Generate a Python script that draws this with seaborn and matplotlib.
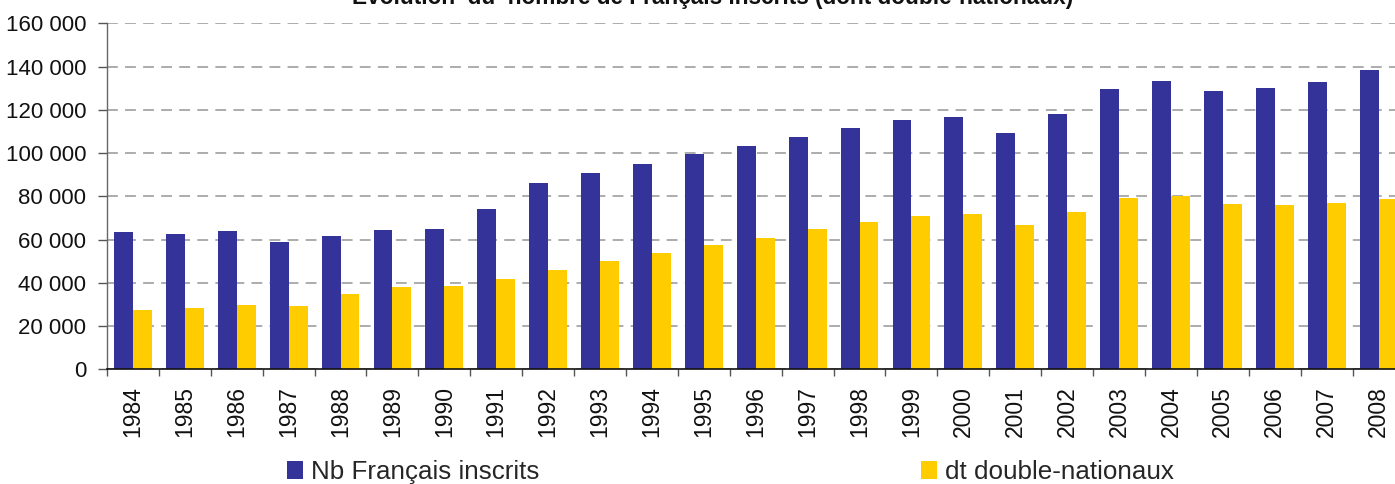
import matplotlib
matplotlib.use('Agg')
import matplotlib.pyplot as plt
import seaborn as sns
import pandas as pd
from matplotlib import font_manager
from matplotlib.ticker import FuncFormatter, FixedLocator

# données
years = [str(y) for y in range(1984, 2009)]
inscrits = [63500, 62600, 63900, 58900, 61600, 64400, 64900, 74100, 86200,
            90800, 94900, 99600, 103300, 107400, 111600, 115300, 116700,
            109300, 118100, 129600, 133300, 128700, 130100, 132900, 138400]
double_nat = [27400, 28400, 29700, 29300, 34800, 38100, 38500, 41800, 45900,
              50100, 53800, 57500, 60700, 64900, 68100, 70900, 71800, 66700,
              72700, 79200, 80100, 76400, 76000, 76900, 78800]
series_names = ['Nb Français inscrits', 'dt double-nationaux']
colors = ['#333399', '#FFCC00']
title = 'Evolution  du  nombre de Français inscrits (dont double-nationaux)'

sns.set_style('white')
plt.rcParams['font.family'] = ['Liberation Sans', 'DejaVu Sans']
names = {f.name for f in font_manager.fontManager.ttflist}
narrow = 'Liberation Sans Narrow' if 'Liberation Sans Narrow' in names else 'Liberation Sans'
ysize = 17 if narrow == 'Liberation Sans Narrow' else 16

df = pd.DataFrame({
    'annee': years * 2,
    'valeur': inscrits + double_nat,
    'serie': [series_names[0]] * len(years) + [series_names[1]] * len(years),
})

W, H = 1395, 484
fig = plt.figure(figsize=(W / 100, H / 100), dpi=100)
ax = fig.add_axes([107 / W, (H - 369.3) / H, 1297.5 / W, 346 / H])

sns.barplot(data=df, x='annee', y='valeur', hue='serie', palette=colors,
            width=0.73, saturation=1, ax=ax, gap=0, linewidth=0)

ax.set_xlim(-0.5, len(years) - 0.5)
ax.set_ylim(0, 160000)
ax.set_xlabel('')
ax.set_ylabel('')

# grille pointillée
ax.set_axisbelow(True)
ax.yaxis.set_major_locator(FixedLocator(range(0, 160001, 20000)))
ax.grid(axis='y', color='#a6a6a6', linestyle=(0, (6, 4)), linewidth=1.3)
ax.grid(axis='x', visible=False)

ax.yaxis.set_major_formatter(FuncFormatter(lambda v, p: f'{v:,.0f}'.replace(',', ' ')))
ax.tick_params(axis='y', length=6.5, width=1, color='#555555', pad=8.5,
               labelsize=ysize, labelcolor='#111111', left=True)
for lab in ax.get_yticklabels():
    lab.set_family(narrow)

# ticks entre les catégories
ax.set_xticks([i - 0.5 for i in range(len(years) + 1)], minor=True)
ax.tick_params(axis='x', which='minor', length=5, width=1, color='#555555', bottom=True)
ax.tick_params(axis='x', which='major', length=0, pad=12, labelsize=16.5,
               labelcolor='#111111', labelrotation=90)

for s in ['top', 'right']:
    ax.spines[s].set_visible(False)
ax.spines['left'].set_color('#666666')
ax.spines['left'].set_linewidth(1)
ax.spines['bottom'].set_color('#111111')
ax.spines['bottom'].set_linewidth(1.2)

handles, labels = ax.get_legend_handles_labels()
ax.get_legend().remove()
fig.legend(handles, labels, loc='center left', bbox_to_anchor=(287 / W, 1 - 472 / H),
           ncol=2, frameon=False, fontsize=18.7, handlelength=0.62, handleheight=0.7,
           handletextpad=0.3, columnspacing=14.7, borderpad=0, borderaxespad=0)

fig.text(713 / W, 1 - 4 / H, title, ha='center', va='baseline',
         fontsize=16.3, fontweight='bold', color='#111111')

fig.savefig('out.png', dpi=100)
